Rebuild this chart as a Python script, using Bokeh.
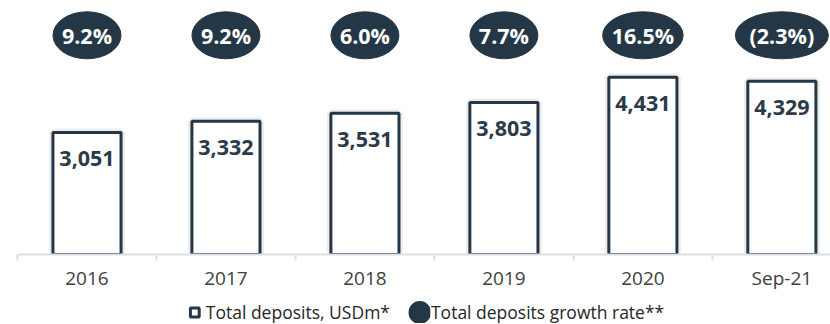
from bokeh.plotting import figure
from bokeh.layouts import column
from bokeh.models import ColumnDataSource, FixedTicker, Range1d, Legend, LegendItem
from bokeh.core.properties import value
from bokeh.embed import file_html
from bokeh.resources import INLINE

# Total deposits (USDm) and year-on-year growth rate (%)
periods = ["2016", "2017", "2018", "2019", "2020", "Sep-21"]
deposits = [3051, 3332, 3531, 3803, 4431, 4329]
growth_pct = [9.2, 9.2, 6.0, 7.7, 16.5, -2.3]

NAVY = "#243746"
TEXT_DARK = "#2b3a48"
AXIS_GREY = "#d8e0e8"
FONT = "Open Sans"

Y_TOP = 6350          # top of the value axis
RATE_ROW = 5480       # vertical position of the growth-rate badges


def rate_text(r):
    return f"{r:.1f}%" if r >= 0 else f"({abs(r):.1f}%)"


xs = list(range(len(periods)))
rate_labels = [rate_text(r) for r in growth_pct]
src = ColumnDataSource(dict(
    x=xs,
    dep=deposits,
    dep_label=[f"{d:,}" for d in deposits],
    rate_label=rate_labels,
    rate_w=[18 + 12.5 * len(s) for s in rate_labels],
    rate_y=[RATE_ROW] * len(xs),
))

p = figure(
    width=830, height=300,
    x_range=Range1d(-0.5, 5.35), y_range=Range1d(0, Y_TOP),
    y_axis_location=None,
    min_border_left=17, min_border_right=0, min_border_top=0, min_border_bottom=46,
    output_backend="svg", toolbar_location=None,
)
p.outline_line_color = None
p.grid.visible = False
p.background_fill_color = "white"
p.border_fill_color = "white"

# soft shadow behind the bars
p.vbar(x="x", top="dep", width=0.49, source=src, fill_color=None,
       line_color="black", line_alpha=0.07, line_width=8)
bars = p.vbar(x="x", top="dep", width=0.49, source=src, fill_color="white",
              line_color=NAVY, line_width=3)

# value labels inside the bars
p.text(x="x", y="dep", text="dep_label", source=src, y_offset=26,
       text_align="center", text_baseline="middle", text_color=TEXT_DARK,
       text_font=value(FONT), text_font_size="21.5px", text_font_style="bold")

# growth-rate badges
p.ellipse(x="x", y="rate_y", width="rate_w", height=47, width_units="screen",
          height_units="screen", source=src, fill_color=NAVY, line_color=NAVY)
p.text(x="x", y="rate_y", text="rate_label", source=src,
       text_align="center", text_baseline="middle", text_color="white",
       text_font=value(FONT), text_font_size="21.5px", text_font_style="bold")

# category axis: labels at the centres, ticks between categories
ax = p.xaxis[0]
ax.ticker = FixedTicker(ticks=xs, minor_ticks=[i - 0.5 for i in range(len(xs) + 1)])
ax.major_label_overrides = {i: lab for i, lab in enumerate(periods)}
ax.major_tick_line_color = None
ax.major_tick_out = 0
ax.major_tick_in = 0
ax.minor_tick_out = 6
ax.minor_tick_in = 0
ax.minor_tick_line_color = AXIS_GREY
ax.minor_tick_line_width = 2
ax.axis_line_color = AXIS_GREY
ax.axis_line_width = 2
ax.major_label_standoff = 4
ax.major_label_text_font = FONT
ax.major_label_text_font_size = "19px"
ax.major_label_text_color = "#404040"

# legend strip under the chart
lg = figure(
    width=830, height=24, x_range=Range1d(0, 1), y_range=Range1d(0, 1),
    x_axis_location=None, y_axis_location=None,
    min_border=0, output_backend="svg", toolbar_location=None,
)
lg.outline_line_color = None
lg.grid.visible = False

# legend swatches (sources hold no drawable points)
nan = float("nan")
sq = lg.scatter(x=[nan], y=[nan], marker="square", size=9, fill_color="white",
                line_color=NAVY, line_width=3)
dot = lg.scatter(x=[nan], y=[nan], marker="circle", size=9, fill_color=NAVY,
                 line_color=NAVY, line_width=14)
legend = Legend(
    items=[LegendItem(label="Total deposits, USDm*", renderers=[sq]),
           LegendItem(label="Total deposits growth rate**", renderers=[dot])],
    orientation="horizontal", location="center",
    glyph_width=22, glyph_height=22, label_standoff=1, spacing=18,
    padding=0, margin=0, border_line_color=None, background_fill_alpha=0,
    label_text_font=FONT, label_text_font_size="17.5px", label_text_color="#262626",
)
lg.add_layout(legend, "center")

open("out.html", "w").write(file_html(column(p, lg, spacing=0), INLINE))
